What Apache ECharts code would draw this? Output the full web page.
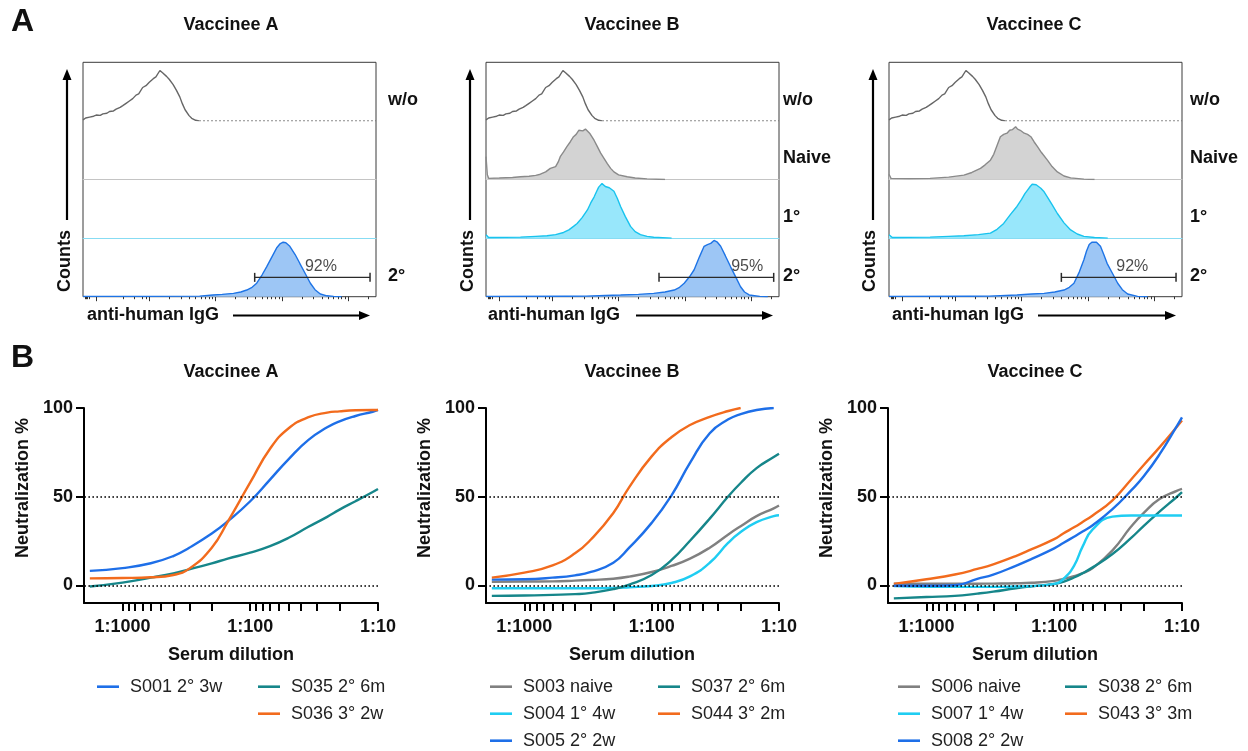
<!DOCTYPE html>
<html>
<head>
<meta charset="utf-8">
<title>Vaccinee sera</title>
<script src="https://cdn.jsdelivr.net/npm/echarts@6/dist/echarts.min.js"></script>
<style>
  html, body { margin: 0; padding: 0; background: #fff; }
  #main { width: 1248px; height: 751px; }
</style>
</head>
<body>
<div id="main"></div>
<script>
// ---------- panel A: flow histograms, x = log10 fluorescence (decades), y = % of lane height
var woHist = [[1.0,1.7],[1.04,5],[1.1,6.5],[1.16,8],[1.2,10],[1.26,9.5],[1.3,12],[1.36,13],[1.4,16],[1.46,17],[1.5,20],[1.56,23],[1.6,26],[1.65,30],[1.7,34],[1.75,38],[1.8,44],[1.84,46],[1.9,57],[1.95,60],[2.0,66],[2.03,67],[2.06,72],[2.1,75],[2.13,77],[2.16,86],[2.2,82],[2.26,76],[2.3,71],[2.36,62],[2.41,52],[2.46,41],[2.5,29],[2.54,19],[2.6,9],[2.64,4.5],[2.7,1],[2.75,0]];
var woTail = [[2.75,0],[5.42,0]];
var naiveB = [[1.0,39],[1.02,8],[1.04,2],[1.2,2.5],[1.4,3.5],[1.52,4.6],[1.65,5.5],[1.75,7],[1.82,9],[1.9,13],[1.97,19],[2.05,22],[2.09,30],[2.12,39],[2.17,47],[2.22,56],[2.27,64],[2.32,73],[2.36,77],[2.4,84],[2.43,87],[2.46,83],[2.5,86],[2.53,85],[2.57,78],[2.63,67],[2.68,56],[2.73,45],[2.78,36],[2.83,27],[2.88,19],[2.93,13],[3.0,8],[3.13,4.6],[3.25,2.5],[3.43,1],[3.7,0]];
var naiveC = [[1.0,9],[1.03,2],[1.3,1.5],[1.62,2],[1.9,4],[2.13,7.4],[2.25,12],[2.38,19],[2.45,25],[2.53,33],[2.58,43],[2.63,58],[2.68,73],[2.73,77],[2.78,79],[2.82,84],[2.86,85],[2.91,90],[2.94,86],[2.98,84],[3.04,79],[3.09,77],[3.14,73],[3.19,64],[3.24,56],[3.3,46],[3.39,33],[3.46,22],[3.54,13],[3.64,6],[3.74,2.8],[3.94,0.6],[4.1,0]];
var cyanB = [[1.0,5.6],[1.04,1],[1.3,1.2],[1.52,1.7],[1.75,3],[1.92,4],[2.05,6],[2.17,9.6],[2.25,14],[2.32,20],[2.375,25],[2.45,35],[2.53,48],[2.58,60],[2.63,70],[2.67,80],[2.7,87],[2.73,90],[2.75,93],[2.78,91],[2.8,88],[2.83,89],[2.86,86],[2.88,87],[2.93,80],[2.98,68],[3.03,54],[3.1,37],[3.18,20],[3.25,11],[3.33,6],[3.43,3],[3.53,1.5],[3.8,0]];
var cyanC = [[1.0,5.6],[1.05,1],[1.3,1.2],[1.62,1.7],[1.9,3],[2.13,4],[2.35,6],[2.53,8.5],[2.63,15],[2.73,25],[2.83,40],[2.93,54],[3.0,66],[3.05,76],[3.09,82],[3.13,88],[3.16,92],[3.19,90],[3.22,91],[3.24,88],[3.29,85],[3.34,79],[3.39,70],[3.46,57],[3.54,42],[3.64,26],[3.74,14],[3.84,7],[3.94,3],[4.1,1],[4.3,0]];
var blue2A = [[1.0,0.5],[2.0,0.5],[2.76,1],[2.96,2.9],[3.1,4],[3.27,5.7],[3.38,8],[3.47,11.4],[3.55,16],[3.62,23],[3.7,37],[3.77,51],[3.85,68],[3.92,83],[3.97,90],[4.02,93],[4.06,92],[4.12,86],[4.2,72],[4.27,57],[4.35,40],[4.43,23],[4.5,12],[4.58,4.6],[4.68,1.5],[4.78,0.6],[4.9,0]];
var blue2B = [[1.0,0.5],[2.2,0.8],[2.51,1],[2.8,2],[3.03,2.9],[3.3,4],[3.53,5.7],[3.7,8],[3.84,11.4],[3.92,16],[3.99,23],[4.07,34],[4.14,46],[4.22,68],[4.29,86],[4.34,89],[4.39,91],[4.44,96],[4.49,93],[4.54,86],[4.61,70],[4.69,51],[4.77,33],[4.84,17],[4.9,8],[4.97,3],[5.13,0.5],[5.25,0]];
var blue2C = [[1.0,0.5],[2.2,0.8],[2.51,1],[2.93,3],[3.15,4.5],[3.34,5.7],[3.5,8],[3.64,11.4],[3.72,16],[3.79,23],[3.87,42],[3.94,63],[3.98,78],[4.02,89],[4.06,93],[4.09,94],[4.13,93],[4.19,86],[4.24,72],[4.29,57],[4.37,40],[4.45,23],[4.52,12],[4.6,4.6],[4.75,0.6],[4.9,0]];
var gateFrom = [3.59, 3.61, 3.60];
var gateTo = [5.33, 5.34, 5.33];
var gateH = 33;
var gatePct = ['92%', '95%', '92%'];
var gateTextX = [4.59, 4.94, 4.67];
var gateTextH = 52;
var laneTags = ['w/o', 'Naive', '1°', '2°'];
var flowMajor = [1.2, 2, 3, 4, 5];
var flowMinor = [1.03, 1.05, 1.07, 1.1, 1.6, 1.78, 1.9, 1.95];
[2, 3, 4].forEach(function (n) { for (var k = 2; k < 10; k++) flowMinor.push(n + Math.log10(k)); });
flowMinor.push(5 + Math.log10(2));

// ---------- panel B: neutralization curves (x = reciprocal serum dilution)
var dilAB = [1800, 1000, 600, 400, 300, 200, 150, 100, 70, 50, 35, 25, 20, 15, 11, 10];
var dilC = [1800, 1000, 600, 400, 300, 200, 150, 100, 85, 70, 60, 50, 35, 25, 20, 15, 11, 10];
var s001 = [8.1, 9.7, 12.4, 16.5, 21.2, 29.2, 36.1, 47.4, 59.6, 71.2, 82, 89.1, 92.5, 95.5, 97.9, 98.9];
var s035 = [-0.7, 1.5, 4.3, 6.7, 9, 12.4, 15, 18.4, 22.1, 26.8, 33, 38.6, 42.7, 47.4, 52.6, 54.3];
var s036 = [3.9, 4.1, 4.5, 5.8, 9.4, 21.2, 35.8, 58, 77, 88.6, 94.8, 97.4, 98.1, 98.7, 98.9, 98.9];
var s003 = [1.9, 2.1, 2.2, 2.6, 3, 3.7, 4.9, 7.5, 10.9, 15, 21.2, 28.7, 33.3, 39, 43.4, 45];
var s004 = [-1.7, -1.7, -1.7, -1.7, -1.7, -1.5, -1.1, -0.4, 1.3, 5, 12.7, 24, 30, 35.6, 39, 39.5];
var s005 = [3.2, 3.4, 4.3, 5.6, 7.5, 12.7, 21.2, 35.2, 50.6, 69, 85.8, 93.6, 96.6, 98.9, 100, null];
var s037 = [-6, -5.8, -5.4, -5, -4.3, -2.2, 0.4, 5.8, 14.2, 25.1, 37.6, 50.2, 57.7, 66.1, 72.3, 74.2];
var s044 = [4.3, 7.1, 11.2, 18, 25.8, 40.8, 55.4, 72.7, 83.5, 90.4, 95, 98.3, 100, null, null, null];
var s006 = [0.9, 0.9, 0.9, 0.9, 0.95, 1.1, 1.4, 2.5, 3.6, 5.2, 6.8, 9.7, 19.7, 33.1, 40.7, 48.6, 53.3, 54.4];
var s007 = [-0.4, -0.8, -0.9, -0.9, -0.9, -0.7, -0.4, 0.8, 3.5, 11, 21.8, 31.5, 38.7, 39.4, 39.4, 39.4, 39.4, 39.4];
var s008 = [-0.3, -0.3, 0, 3.6, 6, 11, 14.9, 20.8, 23.8, 27.4, 30.3, 33.9, 42.9, 53.5, 61.3, 73.8, 89.6, 94.7];
var s038 = [-7.4, -6.6, -6, -4.7, -3.6, -1.7, -0.6, 0.7, 1.9, 4.4, 6.8, 10.1, 17.6, 26.7, 33.4, 41.5, 49.8, 52.5];
var s043 = [0.8, 3.4, 6.1, 9.2, 11.8, 16.5, 20.4, 26, 29.2, 32.7, 35.7, 39.4, 47.9, 59.7, 67.7, 77.8, 89.3, 92.9];
var dilTicks = [10, 20, 30, 40, 50, 60, 70, 80, 90, 100, 200, 300, 400, 500, 600, 700, 800, 900, 1000];
var dilLabels = [10, 100, 1000];
var yTicks = [0, 50, 100];

var FONT = '"Liberation Sans", Arial, Helvetica, sans-serif';
var BLUE = '#1e6fe8', ORANGE = '#f26b1d', TEAL = '#16868a', GRAY = '#808080', CYAN = '#1fcdf2';
var BOX_TOP = 62.3, LANE_H = 58.6, BOX_W = 293;

var flowPanels = [
  {left: 83, title: 'Vaccinee A', cx: 231, naive: null, prim: null, sec: blue2A, tags: [1, 0, 0, 1], tagX: 388, arrowX: 67, countsX: 65, igX: 87, igArrow: [233, 370]},
  {left: 486, title: 'Vaccinee B', cx: 632, naive: naiveB, prim: cyanB, sec: blue2B, tags: [1, 1, 1, 1], tagX: 783, arrowX: 470, countsX: 468, igX: 488, igArrow: [636, 773]},
  {left: 889, title: 'Vaccinee C', cx: 1034, naive: naiveC, prim: cyanC, sec: blue2C, tags: [1, 1, 1, 1], tagX: 1190, arrowX: 873, countsX: 870, igX: 892, igArrow: [1038, 1176]}
];

var curvePanels = [
  {left: 84, width: 294, title: 'Vaccinee A', cx: 231, nameX: 23.5, dil: dilAB,
   lines: [['S001 2° 3w', s001, BLUE], ['S035 2° 6m', s035, TEAL], ['S036 3° 2w', s036, ORANGE]],
   legendCols: [['S001 2° 3w'], ['S035 2° 6m', 'S036 3° 2w']], legendLeft: [97, 258]},
  {left: 486, width: 293, title: 'Vaccinee B', cx: 632, nameX: 425, dil: dilAB,
   lines: [['S003 naive', s003, GRAY], ['S004 1° 4w', s004, CYAN], ['S037 2° 6m', s037, TEAL], ['S005 2° 2w', s005, BLUE], ['S044 3° 2m', s044, ORANGE]],
   legendCols: [['S003 naive', 'S004 1° 4w', 'S005 2° 2w'], ['S037 2° 6m', 'S044 3° 2m']], legendLeft: [490, 658]},
  {left: 888, width: 294, title: 'Vaccinee C', cx: 1035, nameX: 827, dil: dilC,
   lines: [['S006 naive', s006, GRAY], ['S038 2° 6m', s038, TEAL], ['S007 1° 4w', s007, CYAN], ['S043 3° 3m', s043, ORANGE], ['S008 2° 2w', s008, BLUE]],
   legendCols: [['S006 naive', 'S007 1° 4w', 'S008 2° 2w'], ['S038 2° 6m', 'S043 3° 3m']], legendLeft: [898, 1065]}
];

var grids = [], xAxes = [], yAxes = [], series = [], legends = [], graphics = [];

function txt(s, x, y, size, opts) {
  opts = opts || {};
  var al = opts.align || 'center';
  graphics.push({
    type: 'text', x: x, y: y, rotation: opts.rot || 0, silent: true,
    style: {text: s, fill: opts.color || '#111', font: (opts.weight || 'bold') + ' ' + size + 'px ' + FONT,
      align: al, verticalAlign: 'middle', textAlign: al, textVerticalAlign: 'middle'}
  });
}

function arrow(x1, y1, x2, y2) {
  var dx = x2 - x1, dy = y2 - y1, len = Math.sqrt(dx * dx + dy * dy);
  var ux = dx / len, uy = dy / len, hl = 11, hw = 4.5;
  var bx = x2 - ux * hl, by = y2 - uy * hl;
  graphics.push({type: 'line', silent: true, shape: {x1: x1, y1: y1, x2: bx, y2: by}, style: {stroke: '#000', lineWidth: 2.2}});
  graphics.push({type: 'polygon', silent: true, shape: {points: [[x2, y2], [bx - uy * hw, by + ux * hw], [bx + uy * hw, by - ux * hw]]}, style: {fill: '#000'}});
}

txt('A', 11, 22.5, 32, {align: 'left'});
txt('B', 11, 358, 32, {align: 'left'});

flowPanels.forEach(function (p, k) {
  var hists = [[woHist, '#666666', null], [p.naive, '#8a8a8a', '#d3d3d3'], [p.prim, '#18c3ee', '#98e7fb'], [p.sec, '#1e74e6', '#9dc6f5']];
  var laneLine = [null, '#c4c4c4', '#87dcf3', null];
  for (var i = 0; i < 4; i++) {
    grids.push({left: p.left, top: BOX_TOP + i * LANE_H, width: BOX_W, height: LANE_H});
    var gi = grids.length - 1;
    xAxes.push({type: 'value', gridIndex: gi, min: 1, max: 5.42, show: !!laneLine[i],
      axisLine: {show: true, lineStyle: {color: laneLine[i] || '#000', width: 1}},
      axisTick: {show: false}, axisLabel: {show: false}, splitLine: {show: false}});
    yAxes.push({type: 'value', gridIndex: gi, min: 0, max: 100, show: false});
    var xi = xAxes.length - 1, yi = yAxes.length - 1;
    var h = hists[i];
    if (h[0]) {
      series.push({type: 'line', xAxisIndex: xi, yAxisIndex: yi, data: h[0], symbol: 'none', silent: true, z: 3,
        lineStyle: {color: h[1], width: 1.4}, areaStyle: h[2] ? {color: h[2], opacity: 1} : null});
    }
    if (i === 0) {
      series.push({type: 'line', xAxisIndex: xi, yAxisIndex: yi, data: woTail, symbol: 'none', silent: true,
        lineStyle: {color: '#6e6e6e', width: 1, type: [2, 2]}});
    }
    if (i === 3) {
      series.push({type: 'line', xAxisIndex: xi, yAxisIndex: yi, data: [[gateFrom[k], gateH], [gateTo[k], gateH]],
        symbol: 'rect', symbolSize: [1.5, 9], showSymbol: true, silent: true, z: 6,
        itemStyle: {color: '#2a2a2a'}, lineStyle: {color: '#2a2a2a', width: 1.3}});
      series.push({type: 'scatter', xAxisIndex: xi, yAxisIndex: yi, data: [[gateTextX[k], gateTextH]], symbolSize: 1,
        itemStyle: {color: 'rgba(0,0,0,0)'}, silent: true, z: 6,
        label: {show: true, position: 'inside', formatter: gatePct[k], fontSize: 16, color: '#1a1a1a', fontFamily: FONT}});
    }
    if (p.tags[i]) txt(laneTags[i], p.tagX, BOX_TOP + (i + 1) * LANE_H - 21, 18, {align: 'left'});
  }
  // outer box with log-decade ticks underneath
  grids.push({left: p.left, top: BOX_TOP, width: BOX_W, height: LANE_H * 4, show: true,
    borderColor: '#3a3a3a', borderWidth: 1, backgroundColor: 'rgba(0,0,0,0)'});
  var bi = grids.length - 1;
  [[flowMajor, 4.5], [flowMinor, 2.5]].forEach(function (t) {
    xAxes.push({type: 'value', gridIndex: bi, position: 'bottom', min: 1, max: 5.42,
      axisLine: {show: false}, axisLabel: {show: false}, splitLine: {show: false},
      axisTick: {show: true, length: t[1], customValues: t[0], lineStyle: {color: '#333', width: 1}}});
  });
  yAxes.push({type: 'value', gridIndex: bi, min: 0, max: 1, show: false});

  txt(p.title, p.cx, 25, 18);
  txt('Counts', p.countsX, 261, 18, {rot: Math.PI / 2});
  arrow(p.arrowX, 220, p.arrowX, 69);
  txt('anti-human IgG', p.igX, 315.5, 18, {align: 'left'});
  arrow(p.igArrow[0], 315.5, p.igArrow[1], 315.5);
});

curvePanels.forEach(function (p) {
  grids.push({left: p.left, top: 408, width: p.width, height: 195});
  var gi = grids.length - 1;
  xAxes.push({type: 'log', logBase: 10, gridIndex: gi, min: 10, max: 2000, inverse: true,
    axisLine: {show: true, onZero: false, lineStyle: {color: '#000', width: 2}},
    axisTick: {show: true, length: 8, customValues: dilTicks, lineStyle: {color: '#000', width: 2}},
    axisLabel: {show: true, customValues: dilLabels, margin: 15, fontSize: 18, fontWeight: 'bold', color: '#111', fontFamily: FONT,
      formatter: function (v) { return '1:' + Math.round(v); }},
    splitLine: {show: false}});
  yAxes.push({type: 'value', gridIndex: gi, min: -10, max: 100,
    axisLine: {show: true, onZero: false, lineStyle: {color: '#000', width: 2}},
    axisTick: {show: true, length: 8, customValues: yTicks, lineStyle: {color: '#000', width: 2}},
    axisLabel: {show: true, customValues: yTicks, margin: 11, fontSize: 18, fontWeight: 'bold', color: '#111', fontFamily: FONT},
    splitLine: {show: false}});
  var xi = xAxes.length - 1, yi = yAxes.length - 1;
  p.lines.forEach(function (l, j) {
    var pts = [];
    p.dil.forEach(function (d, i) { if (l[1][i] != null) pts.push([d, l[1][i]]); });
    var s = {type: 'line', name: l[0], xAxisIndex: xi, yAxisIndex: yi, data: pts, smooth: 0.5,
      symbol: 'none', z: 4, lineStyle: {color: l[2], width: 2.4}, itemStyle: {color: l[2]}};
    if (j === 0) {
      s.markLine = {silent: true, symbol: 'none', label: {show: false}, animation: false,
        lineStyle: {type: [1.6, 2.4], color: '#000', width: 1.6}, data: [{yAxis: 0}, {yAxis: 50}]};
    }
    series.push(s);
  });
  p.legendCols.forEach(function (names, c) {
    legends.push({data: names, left: p.legendLeft[c], top: 677.7, orient: 'vertical', padding: 0,
      icon: 'rect', itemWidth: 22, itemHeight: 2.6, itemGap: 9, selectedMode: false,
      textStyle: {fontSize: 18, color: '#222', fontFamily: FONT, lineHeight: 18, padding: [0, 0, 0, 6]}});
  });
  txt(p.title, p.cx, 372, 18);
  txt('Neutralization %', p.nameX, 488, 18, {rot: Math.PI / 2});
  txt('Serum dilution', p.cx, 655, 18);
});

var chart = echarts.init(document.getElementById('main'));
chart.setOption({
  animation: false,
  backgroundColor: '#fff',
  grid: grids,
  xAxis: xAxes,
  yAxis: yAxes,
  legend: legends,
  series: series,
  graphic: {elements: graphics}
});
</script>
</body>
</html>
